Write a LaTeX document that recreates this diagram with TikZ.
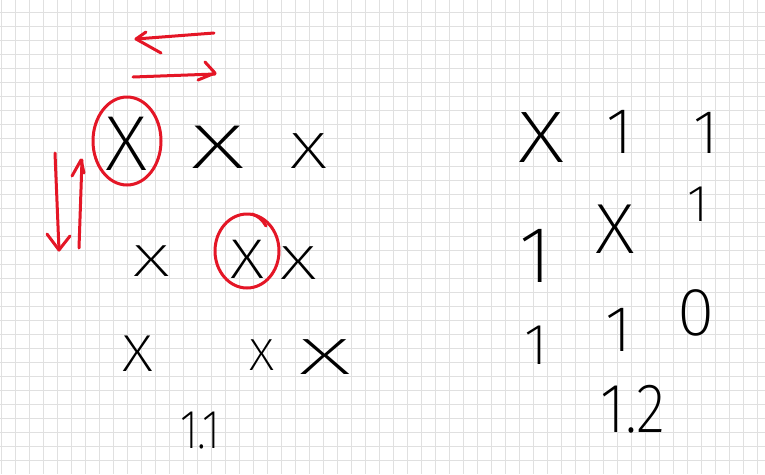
\documentclass[tikz,border=0pt]{standalone}
\usepackage{fontspec}
\IfFontExistsTF{Fira Sans ExtraLight}{\newfontfamily\handfont{Fira Sans ExtraLight}}{%
  \IfFontExistsTF{Fira Sans Light}{\newfontfamily\handfont{Fira Sans Light}}{%
    \newfontfamily\handfont{Fira Sans}}}
\definecolor{redink}{RGB}{228,22,38}
\definecolor{gridgray}{RGB}{224,224,224}

\begin{document}
\begin{tikzpicture}[x=1pt, y=-1pt]
    \tikzset{sym/.style = {inner sep=0pt, font=\handfont\fontsize{#1}{#1}\selectfont}}
    \tikzset{wide/.style = {xscale=#1, transform shape}}
    \tikzset{ink/.style = {draw=redink, line width=3pt, line cap=round, line join=round}}
    \useasboundingbox (0,0) rectangle (765,474);
    \fill[white] (0,0) rectangle (765,474);
    % squared paper
    \foreach \gx in {1.5,15.5,...,765} \draw[gridgray, line width=1pt] (\gx,0) -- (\gx,474);
    \foreach \gy in {12.5,26.5,...,474} \draw[gridgray, line width=1pt] (0,\gy) -- (765,\gy);

    % left board
    \node[sym=78, wide=1.07] (a1) at (127,144) {X};
    \node[sym=62, wide=1.7] (a2) at (218,147) {X};
    \node[sym=51, wide=1.43] (a3) at (309,151) {X};
    \node[sym=45, wide=1.6] (b1) at (152,261) {X};
    \node[sym=56, wide=1.2] (b2) at (247,259) {X};
    \node[sym=48, wide=1.5] (b3) at (299,263) {X};
    \node[sym=52, wide=1.17] (c1) at (138,354) {X};
    \node[sym=45, wide=1.1] (c2) at (262,355) {X};
    \node[sym=51, wide=2] (c3) at (325,357) {X};
    \node[sym=55, wide=0.8] (lscore) at (200,431) {1.1};

    % right board
    \node[sym=73, wide=1.25] (r11) at (542,138) {X};
    \node[sym=65] (r12) at (620,132) {1};
    \node[sym=62] (r13) at (706,133) {1};
    \node[sym=80] (r21) at (536,256) {1};
    \node[sym=71, wide=1.1] (r22) at (615,229) {X};
    \node[sym=52] (r23) at (698,204) {1};
    \node[sym=58] (r31) at (536,345) {1};
    \node[sym=65] (r32) at (619,330) {1};
    \node[sym=68] (r33) at (696,313) {0};
    \node[sym=70, wide=0.87] (rscore) at (633,409) {1.2};

    % red marks
    \draw[ink] (127,141) ellipse [x radius=34, y radius=44];
    \draw[ink] (247,251) ellipse [x radius=32, y radius=37];
    \draw[ink] (252,214) to[bend left=20] (266,226);
    \draw[ink] (214,33) -- (136,39);
    \draw[ink] (146,32) -- (136,39) -- (161,53);
    \draw[ink] (133,77) -- (215,74);
    \draw[ink] (205,62) -- (215,73) -- (198,80);
    \draw[ink] (55,153) -- (59,250);
    \draw[ink] (47,234) -- (59,250) -- (70,236);
    \draw[ink] (79,248) -- (82,160);
    \draw[ink] (72,176) -- (81,160) -- (84,173);
\end{tikzpicture}
\end{document}
